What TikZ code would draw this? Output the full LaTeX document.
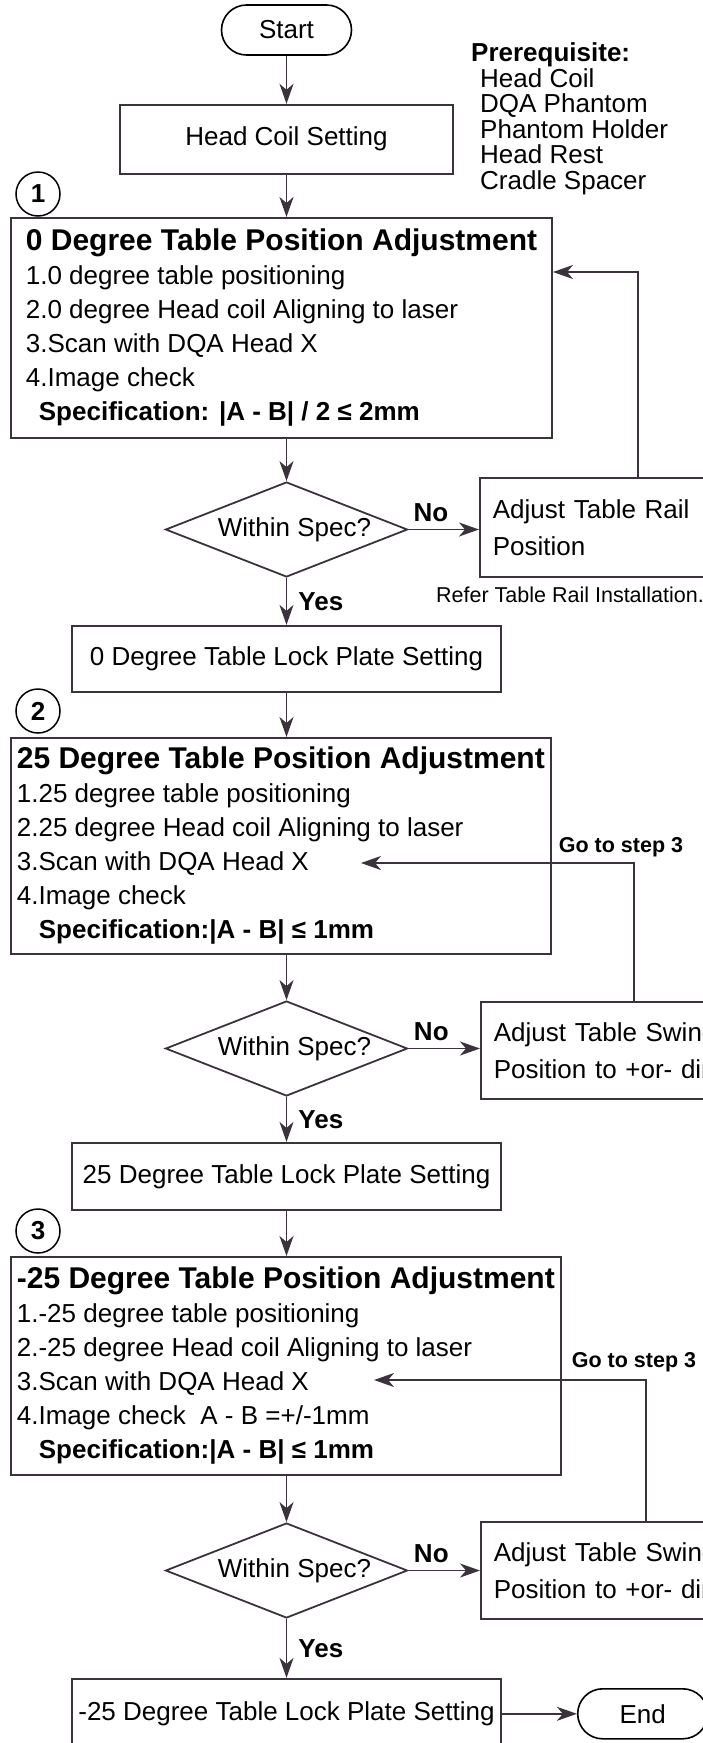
\documentclass[tikz,border=0pt]{standalone}
\usepackage{fontspec}
\setmainfont{Liberation Sans}
\usetikzlibrary{arrows.meta,positioning,shapes.geometric}

\definecolor{flowline}{RGB}{60,50,62}

\newcommand{\steptitle}[1]{{\fontsize{30}{34}\selectfont\bfseries #1}}

\tikzset{
  base text/.style={font=\fontsize{26}{34}\selectfont},
  terminal/.style={base text, draw=black, line width=1.6pt, rectangle,
    rounded corners=25pt, minimum width=130pt, minimum height=50pt, inner sep=0pt},
  process/.style={base text, draw=flowline, line width=1.8pt, rectangle},
  stepbox/.style={base text, draw=flowline, line width=1.8pt, rectangle,
    align=left, anchor=north west, inner ysep=0pt},
  decision/.style={base text, draw=flowline, line width=1.8pt, diamond, aspect=2.5,
    inner sep=0pt, minimum width=242pt, minimum height=95pt},
  fixbox/.style={draw=flowline, line width=1.8pt, rectangle, align=left, anchor=west,
    text width=300pt, inner xsep=13pt, font=\fontsize{26}{37}\selectfont},
  stepno/.style={circle, draw=black, line width=1.5pt, minimum size=44pt, inner sep=0pt,
    font=\fontsize{26}{30}\selectfont\bfseries},
  answer/.style={font=\fontsize{26}{30}\selectfont\bfseries, inner sep=0pt},
  goto/.style={font=\fontsize{21.5}{26}\selectfont\bfseries, inner sep=0pt},
  flow/.style={-{Stealth[length=20pt,width=14pt,inset=6pt]}, draw=flowline, line width=1.8pt}
}

\begin{document}
\begin{tikzpicture}[x=1pt,y=-1pt]
  \useasboundingbox (0,0) rectangle (703,1743);

  % start
  \node[terminal] (start) at (286.5,30) {Start};
  \node[process, minimum width=333pt, minimum height=69pt, below=48pt of start] (coilset) {Head Coil Setting};
  \node[align=left, anchor=north west, inner sep=0pt, font=\fontsize{26}{25.5}\selectfont] (prereq) at (471,42.5)
    {\textbf{Prerequisite:}\\\hspace*{9pt}Head Coil\\\hspace*{9pt}DQA Phantom\\\hspace*{9pt}Phantom Holder\\\hspace*{9pt}Head Rest\\\hspace*{9pt}Cradle Spacer};

  % step 1
  \node[stepno] (num1) at (38,194) {1};
  \node[stepbox, inner xsep=15pt, minimum height=220pt] (adj0) at (10,217)
    {\steptitle{0 Degree Table Position Adjustment}\\
     1.0 degree table positioning\\
     2.0 degree Head coil Aligning to laser\\
     3.Scan with DQA Head X\\
     4.Image check\\
     \hspace*{13pt}\textbf{Specification: |A - B| / 2 ≤ 2mm}};
  \node[decision] (spec0) at (286.5,529.5) {\hspace*{16pt}Within Spec?};
  \node[fixbox, minimum height=99pt] (rail) at (479,527.5) {Adjust Table Rail\\Position};
  \node[anchor=west, inner sep=0pt, font=\fontsize{21.5}{24}\selectfont] (refer) at (436,595) {Refer Table Rail Installation.};
  \node[process, minimum width=429pt, minimum height=66pt, below=47pt of spec0] (lock0) {0 Degree Table Lock Plate Setting};

  % step 2
  \node[stepno] (num2) at (38,711) {2};
  \node[stepbox, inner xsep=6pt, minimum height=216pt] (adj25) at (10,737)
    {\steptitle{25 Degree Table Position Adjustment}\\
     1.25 degree table positioning\\
     2.25 degree Head coil Aligning to laser\\
     3.Scan with DQA Head X\\
     4.Image check\\
     \hspace*{22pt}\textbf{Specification:|A - B| ≤ 1mm}};
  \node[decision] (spec25) at (286.5,1048.5) {\hspace*{16pt}Within Spec?};
  \node[fixbox, minimum height=97pt] (swing25) at (480,1050.5) {Adjust Table Swing\\Position to +or- direction};
  \node[process, minimum width=429pt, minimum height=67pt, below=45pt of spec25] (lock25) {25 Degree Table Lock Plate Setting};

  % step 3
  \node[stepno] (num3) at (38,1231) {3};
  \node[stepbox, inner xsep=6pt, minimum height=218pt] (adjm25) at (10,1256)
    {\steptitle{-25 Degree Table Position Adjustment}\\
     1.-25 degree table positioning\\
     2.-25 degree Head coil Aligning to laser\\
     3.Scan with DQA Head X\\
     4.Image check\ \ A - B =+/-1mm\\
     \hspace*{22pt}\textbf{Specification:|A - B| ≤ 1mm}};
  \node[decision] (specm25) at (286.5,1570.5) {\hspace*{16pt}Within Spec?};
  \node[fixbox, minimum height=97pt] (swingm25) at (480,1570.5) {Adjust Table Swing\\Position to +or- direction};
  \node[process, minimum width=429pt, minimum height=70pt, below=59pt of specm25] (lockm25) {-25 Degree Table Lock Plate Setting};
  \node[terminal, right=75pt of lockm25] (end) {End};

  % connectors
  \draw[flow] (start) -- (coilset);
  \draw[flow] (coilset) -- (coilset |- adj0.north);
  \draw[flow] (coilset |- adj0.south) -- (spec0);
  \draw[flow] (spec0.east) -- node[answer, above=7pt, pos=0.32] (n0) {No} (spec0.east -| rail.west);
  \draw[flow] (spec0) -- node[answer, right=11pt] (y0) {Yes} (lock0);
  \coordinate (back0) at (638,272);
  \draw[flow] (rail.north -| back0) -- (back0) -- (back0 -| adj0.east);

  \draw[flow] (lock0) -- (lock0 |- adj25.north);
  \draw[flow] (lock0 |- adj25.south) -- (spec25);
  \draw[flow] (spec25.east) -- node[answer, above=7pt, pos=0.32] (n25) {No} (spec25.east -| swing25.west);
  \draw[flow] (spec25) -- node[answer, right=11pt] (y25) {Yes} (lock25);
  \coordinate (turn25) at (634,863);
  \coordinate (goto25) at (361,863);
  \draw[flow] (swing25.north -| turn25) -- (turn25)
    node[goto, above=5pt, xshift=-13pt] (gt25) {Go to step 3} -- (goto25);

  \draw[flow] (lock25) -- (lock25 |- adjm25.north);
  \draw[flow] (lock25 |- adjm25.south) -- (specm25);
  \draw[flow] (specm25.east) -- node[answer, above=7pt, pos=0.32] (nm25) {No} (specm25.east -| swingm25.west);
  \draw[flow] (specm25) -- node[answer, right=11pt] (ym25) {Yes} (lockm25);
  \coordinate (turnm25) at (646,1380);
  \coordinate (gotom25) at (374,1380);
  \draw[flow] (swingm25.north -| turnm25) -- (turnm25)
    node[goto, above=7pt, xshift=-12pt] (gtm25) {Go to step 3} -- (gotom25);

  \draw[flow] (lockm25) -- (end);
\end{tikzpicture}
\end{document}
